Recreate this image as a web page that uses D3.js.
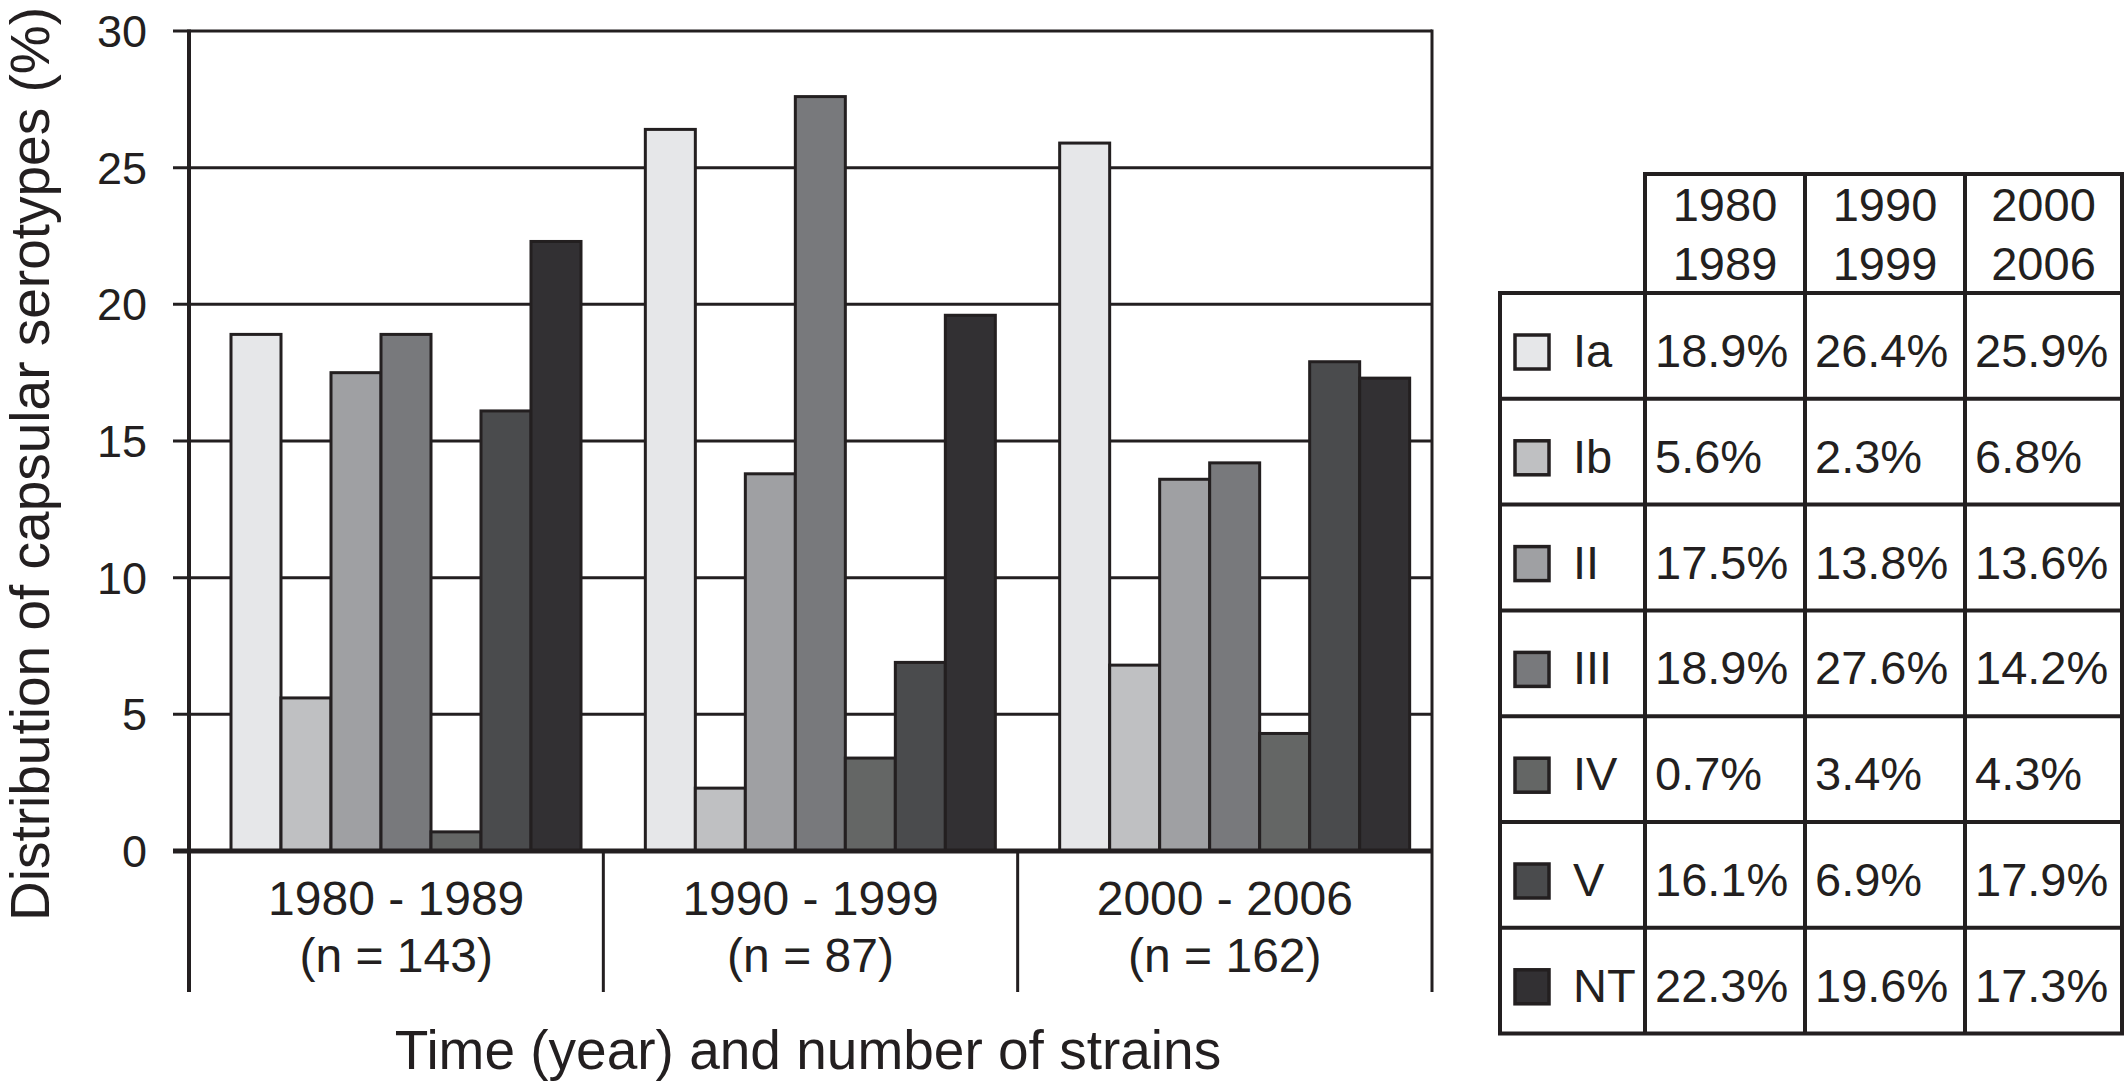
<!DOCTYPE html>
<html>
<head>
<meta charset="utf-8">
<script src="https://cdn.jsdelivr.net/npm/d3@7"></script>
<style>
  body { margin: 0; background: #fff; }
  text { font-family: "Liberation Sans", Arial, Helvetica, sans-serif; fill: #231f20; }
</style>
</head>
<body>
<div class="board"></div>
<script>
var WIDTH = 2125;
var HEIGHT = 1083;
var INK = '#231f20';

// data
var periods = ['1980 - 1989', '1990 - 1999', '2000 - 2006'];
var strainCounts = ['(n = 143)', '(n = 87)', '(n = 162)'];
var headerStart = ['1980', '1990', '2000'];
var headerEnd = ['1989', '1999', '2006'];
var serotypes = ['Ia', 'Ib', 'II', 'III', 'IV', 'V', 'NT'];
var values1980 = [18.9, 5.6, 17.5, 18.9, 0.7, 16.1, 22.3];
var values1990 = [26.4, 2.3, 13.8, 27.6, 3.4, 6.9, 19.6];
var values2000 = [25.9, 6.8, 13.6, 14.2, 4.3, 17.9, 17.3];
var yTicks = [0, 5, 10, 15, 20, 25, 30];
var greys = ['#e6e7e9', '#bfc0c2', '#9fa0a3', '#78797c', '#646665', '#4a4b4d', '#323033'];

var seriesByPeriod = [values1980, values1990, values2000];

var svg = d3.select('.board')
  .append('svg')
  .attr('width', WIDTH)
  .attr('height', HEIGHT);

// ---- bar chart ----
var plotLeft = 189, plotRight = 1432, plotTop = 31, zeroY = 851, bottomY = 992;

var y = d3.scaleLinear().domain([0, 30]).range([zeroY, plotTop]);
var x0 = d3.scaleBand().domain(periods).range([plotLeft, plotRight]);
var x1 = d3.scaleBand().domain(serotypes).range([42, 392]);
var colour = d3.scaleOrdinal().domain(serotypes).range(greys);

// gridlines + ticks
svg.append('g').selectAll('line')
  .data(yTicks.filter(function(d) { return d > 0; }))
  .enter().append('line')
  .attr('x1', plotLeft - 16)
  .attr('x2', plotRight)
  .attr('y1', function(d) { return y(d); })
  .attr('y2', function(d) { return y(d); })
  .attr('stroke', INK)
  .attr('stroke-width', 3);

svg.append('g').selectAll('text')
  .data(yTicks)
  .enter().append('text')
  .attr('x', 147)
  .attr('y', function(d) { return y(d) + 16; })
  .attr('text-anchor', 'end')
  .attr('font-size', 45)
  .text(function(d) { return d; });

// bars
var groups = svg.append('g').selectAll('g')
  .data(periods)
  .enter().append('g')
  .attr('transform', function(d) { return 'translate(' + x0(d) + ',0)'; });

groups.selectAll('rect')
  .data(function(d, i) {
    return serotypes.map(function(s, j) { return { key: s, value: seriesByPeriod[i][j] }; });
  })
  .enter().append('rect')
  .attr('x', function(d) { return x1(d.key); })
  .attr('width', x1.bandwidth())
  .attr('y', function(d) { return y(d.value); })
  .attr('height', function(d) { return zeroY - y(d.value); })
  .attr('fill', function(d) { return colour(d.key); })
  .attr('stroke', INK)
  .attr('stroke-width', 3);

// frame
svg.append('line')
  .attr('x1', plotLeft - 16).attr('x2', plotRight)
  .attr('y1', zeroY).attr('y2', zeroY)
  .attr('stroke', INK).attr('stroke-width', 5);

svg.append('line')
  .attr('x1', plotLeft).attr('x2', plotLeft)
  .attr('y1', plotTop - 1.5).attr('y2', bottomY)
  .attr('stroke', INK).attr('stroke-width', 4);

svg.append('line')
  .attr('x1', plotRight).attr('x2', plotRight)
  .attr('y1', plotTop - 1.5).attr('y2', bottomY)
  .attr('stroke', INK).attr('stroke-width', 3);

svg.append('g').selectAll('line')
  .data(periods.slice(1))
  .enter().append('line')
  .attr('x1', function(d) { return x0(d); })
  .attr('x2', function(d) { return x0(d); })
  .attr('y1', zeroY).attr('y2', bottomY)
  .attr('stroke', INK).attr('stroke-width', 3);

// category labels
var catLabels = svg.append('g').selectAll('text')
  .data(periods)
  .enter().append('text')
  .attr('text-anchor', 'middle')
  .attr('font-size', 48)
  .attr('x', function(d) { return x0(d) + x0.bandwidth() / 2; });

catLabels.append('tspan')
  .attr('y', 915)
  .text(function(d) { return d; });

catLabels.append('tspan')
  .attr('x', function(d) { return x0(d) + x0.bandwidth() / 2; })
  .attr('y', 972)
  .text(function(d, i) { return strainCounts[i]; });

// axis titles
svg.append('text')
  .attr('x', 808)
  .attr('y', 1069)
  .attr('text-anchor', 'middle')
  .attr('font-size', 55)
  .text('Time (year) and number of strains');

svg.append('text')
  .attr('transform', 'translate(49,464) rotate(-90)')
  .attr('text-anchor', 'middle')
  .attr('font-size', 55)
  .text('Distribution of capsular serotypes (%)');

// ---- table legend ----
var colEdges = [1500, 1645, 1805, 1965, 2122];
var headTop = 174, headBottom = 293, rowH = 105.8;
var row = d3.scaleBand().domain(serotypes).range([headBottom, headBottom + rowH * serotypes.length]);

var table = svg.append('g');

// horizontal lines
table.append('line')
  .attr('x1', colEdges[1] - 2).attr('x2', colEdges[4] + 2)
  .attr('y1', headTop).attr('y2', headTop)
  .attr('stroke', INK).attr('stroke-width', 4);

table.selectAll('line.h')
  .data(serotypes.concat(['end']))
  .enter().append('line')
  .attr('class', 'h')
  .attr('x1', colEdges[0] - 2).attr('x2', colEdges[4] + 2)
  .attr('y1', function(d, i) { return headBottom + i * rowH; })
  .attr('y2', function(d, i) { return headBottom + i * rowH; })
  .attr('stroke', INK).attr('stroke-width', 4);

// vertical lines
table.selectAll('line.v')
  .data(colEdges)
  .enter().append('line')
  .attr('class', 'v')
  .attr('x1', function(d) { return d; })
  .attr('x2', function(d) { return d; })
  .attr('y1', function(d, i) { return i === 0 ? headBottom : headTop; })
  .attr('y2', headBottom + rowH * serotypes.length)
  .attr('stroke', INK).attr('stroke-width', 4);

// header
var heads = table.selectAll('text.head')
  .data(headerStart)
  .enter().append('text')
  .attr('class', 'head')
  .attr('text-anchor', 'middle')
  .attr('font-size', 47);

heads.append('tspan')
  .attr('x', function(d, i) { return (colEdges[i + 1] + colEdges[i + 2]) / 2; })
  .attr('y', 221)
  .text(function(d) { return d; });

heads.append('tspan')
  .attr('x', function(d, i) { return (colEdges[i + 1] + colEdges[i + 2]) / 2; })
  .attr('y', 280)
  .text(function(d, i) { return headerEnd[i]; });

// swatches + labels
table.selectAll('rect')
  .data(serotypes)
  .enter().append('rect')
  .attr('x', 1515)
  .attr('y', function(d) { return row(d) + 42; })
  .attr('width', 34)
  .attr('height', 34)
  .attr('fill', function(d) { return colour(d); })
  .attr('stroke', INK)
  .attr('stroke-width', 3.5);

table.selectAll('text.lab')
  .data(serotypes)
  .enter().append('text')
  .attr('class', 'lab')
  .attr('x', 1573)
  .attr('y', function(d) { return row(d) + 74; })
  .attr('font-size', 47)
  .text(function(d) { return d; });

// values
seriesByPeriod.forEach(function(vals, c) {
  table.selectAll('text.val' + c)
    .data(vals)
    .enter().append('text')
    .attr('class', 'val' + c)
    .attr('x', colEdges[c + 1] + 10)
    .attr('y', function(d, i) { return row(serotypes[i]) + 74; })
    .attr('font-size', 47)
    .text(function(d) { return d.toFixed(1) + '%'; });
});
</script>
</body>
</html>
